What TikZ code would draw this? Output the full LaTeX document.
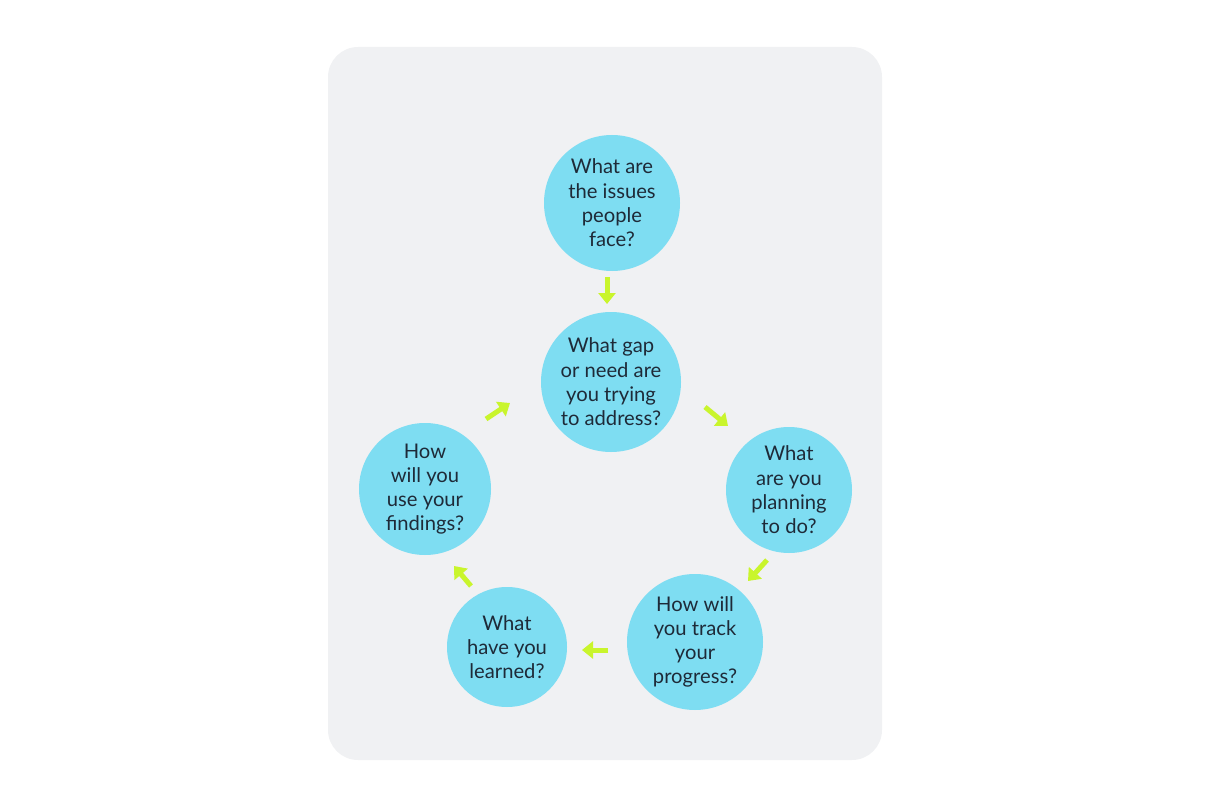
\documentclass[tikz,border=0pt]{standalone}
\usepackage{fontspec}
\setmainfont{Lato}
\usetikzlibrary{arrows.meta}
\definecolor{panelgray}{HTML}{F0F1F3}
\definecolor{bubblecyan}{HTML}{7EDDF2}
\definecolor{arrowlime}{HTML}{C9F52C}
\definecolor{inkdark}{HTML}{1E2A38}
\tikzset{
  bubble/.style={circle, fill=bubblecyan, text=inkdark, align=center, inner sep=0pt,
    font=\fontsize{11.5}{13.8}\selectfont},
  flow/.style={draw=arrowlime, line width=1mm, -{Triangle[width=3.4mm,length=2.2mm]}}
}
\begin{document}
\begin{tikzpicture}[x=0.02cm,y=-0.02cm]
\useasboundingbox (0,0) rectangle (1210,804);
% panel
\fill[panelgray, rounded corners=0.6cm] (328,47) rectangle (882,760);
% questions
\node[bubble, minimum size=136*0.02cm] (issues) at (612,203) {What are\\the issues\\people\\face?};
\node[bubble, minimum size=140*0.02cm] (gap) at (611,382) {What gap\\or need are\\you trying\\to address?};
\node[bubble, minimum size=126*0.02cm] (plan) at (789,490) {What\\are you\\planning\\to do?};
\node[bubble, minimum size=136*0.02cm] (track) at (695,642) {How will\\you track\\your\\progress?};
\node[bubble, minimum size=120*0.02cm] (learned) at (507,647) {What\\have you\\learned?};
\node[bubble, minimum size=132*0.02cm] (use) at (425,489) {How\\will you\\use your\\findings?};
% arrows
\coordinate (a1) at (607,277); \coordinate (b1) at (607,304);
\coordinate (a2) at (705,407); \coordinate (b2) at (728,426);
\coordinate (a3) at (767,560); \coordinate (b3) at (748,581);
\coordinate (a4) at (608,650); \coordinate (b4) at (582,650);
\coordinate (a5) at (471,586); \coordinate (b5) at (454,566);
\coordinate (a6) at (486,419); \coordinate (b6) at (510,403);
\foreach \i in {1,...,6}
  \draw[flow] (a\i) -- (b\i);
\end{tikzpicture}
\end{document}
